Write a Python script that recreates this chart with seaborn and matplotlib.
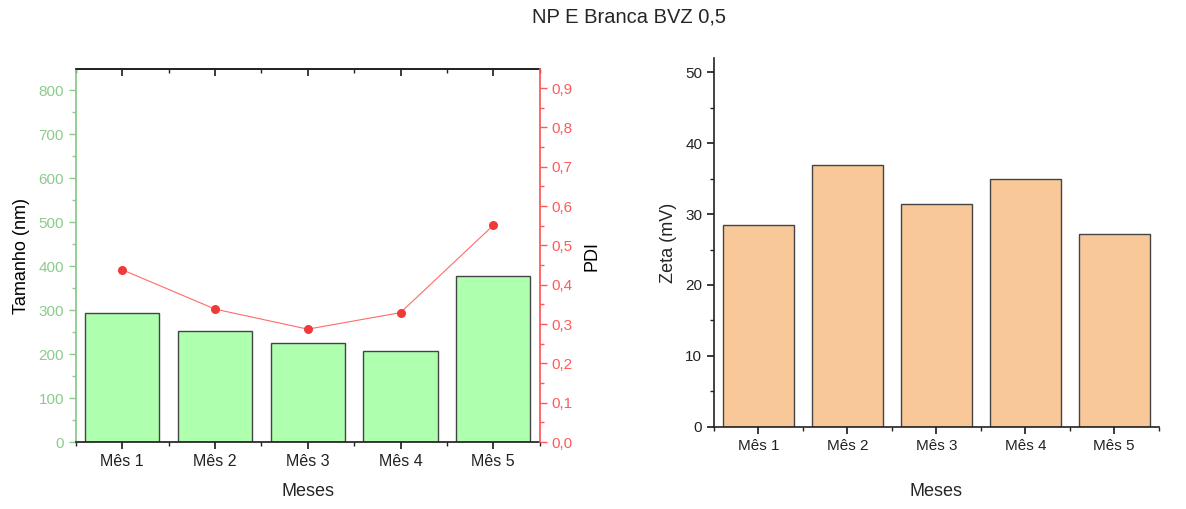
import matplotlib
matplotlib.use("Agg")
import matplotlib.pyplot as plt
from matplotlib.ticker import MultipleLocator, FuncFormatter, NullFormatter
import seaborn as sns
import pandas as pd

meses = ["Mês 1", "Mês 2", "Mês 3", "Mês 4", "Mês 5"]
tamanho_nm = [293, 253, 226, 206, 378]
pdi = [0.438, 0.338, 0.287, 0.329, 0.551]
zeta_mv = [28.5, 36.9, 31.4, 35.0, 27.2]

sns.set_theme(style="ticks")
plt.rcParams["font.family"] = ["Liberation Sans", "DejaVu Sans"]

GREEN_BAR = "#AEFFAE"
GREEN_AX = "#8CCB8C"
RED = "#F03A3A"
RED_AX = "#FF5A5A"
ORANGE_BAR = "#F8C899"
EDGE = "#444444"

df = pd.DataFrame({"Meses": meses, "Tamanho": tamanho_nm, "PDI": pdi, "Zeta": zeta_mv})

fig = plt.figure(figsize=(11.86, 5.09), dpi=100)
ax1 = fig.add_axes([0.064, 0.1316, 0.391, 0.7324])
ax3 = fig.add_axes([0.602, 0.1617, 0.375, 0.7238])

comma = FuncFormatter(lambda v, p: f"{v:.1f}".replace(".", ","))
major_x = list(range(len(meses)))
minor_x = [i + 0.5 for i in range(-1, len(meses))]

# --- Tamanho (bars) with PDI on twin axis ---
sns.barplot(data=df, x="Meses", y="Tamanho", ax=ax1, color=GREEN_BAR,
            saturation=1, width=0.8, edgecolor=EDGE, linewidth=1.0)
ax1.set_ylim(0, 848)
ax1.set_xlim(-0.5, 4.5)
ax1.yaxis.set_major_locator(MultipleLocator(100))
ax1.yaxis.set_minor_locator(MultipleLocator(50))
ax1.set_xticks(major_x)
ax1.set_xticks(minor_x, minor=True)
ax1.set_ylabel("Tamanho (nm)", fontsize=13, color="black", labelpad=6)
ax1.set_xlabel("Meses", fontsize=13, labelpad=10)
ax1.tick_params(axis="y", colors=GREEN_AX, labelsize=11, direction="out", length=5, width=1)
ax1.tick_params(axis="y", which="minor", colors=GREEN_AX, length=3)
ax1.tick_params(axis="x", labelsize=11.5, labelcolor="#222222", direction="out", length=5,
                which="major", color="#222222")
ax1.tick_params(axis="x", which="minor", length=3, color="#222222")
ax1.spines["left"].set_color(GREEN_AX)
ax1.spines["left"].set_linewidth(1.3)
ax1.spines["top"].set_color("#222222")
ax1.spines["bottom"].set_color("#222222")
ax1.spines["right"].set_visible(False)

# top axis: inward ticks, no labels
top = ax1.secondary_xaxis("top")
top.set_xticks(major_x)
top.set_xticks(minor_x, minor=True)
top.xaxis.set_major_formatter(NullFormatter())
top.tick_params(axis="x", which="major", direction="in", length=5, color="#222222")
top.tick_params(axis="x", which="minor", direction="in", length=3, color="#222222")
top.spines["top"].set_color("#222222")

ax2 = ax1.twinx()
sns.pointplot(data=df, x="Meses", y="PDI", ax=ax2, color=RED, markers="o",
              markersize=6.5, linewidth=0.8, linestyles="-")
for ln in ax2.lines:
    ln.set_markeredgewidth(0)
ax2.get_lines()[0].set_color("#FF6B6B")
ax2.get_lines()[0].set_markerfacecolor(RED)
ax2.set_ylim(0, 0.948)
ax2.set_xlim(-0.5, 4.5)
ax2.yaxis.set_major_locator(MultipleLocator(0.1))
ax2.yaxis.set_minor_locator(MultipleLocator(0.05))
ax2.yaxis.set_major_formatter(comma)
ax2.set_ylabel("PDI", fontsize=13, color="black", labelpad=8)
ax2.set_xlabel("")
ax2.tick_params(axis="y", colors=RED_AX, labelsize=11, direction="out", length=5, width=1)
ax2.tick_params(axis="y", which="minor", colors=RED_AX, length=3)
ax2.spines["right"].set_color(RED_AX)
ax2.spines["right"].set_linewidth(1.3)
ax2.spines["left"].set_visible(False)
ax2.spines["top"].set_visible(False)
ax2.spines["bottom"].set_visible(False)

# --- Zeta potential ---
sns.barplot(data=df, x="Meses", y="Zeta", ax=ax3, color=ORANGE_BAR,
            saturation=1, width=0.8, edgecolor=EDGE, linewidth=1.0)
ax3.set_ylim(0, 52)
ax3.set_xlim(-0.5, 4.5)
ax3.yaxis.set_major_locator(MultipleLocator(10))
ax3.yaxis.set_minor_locator(MultipleLocator(5))
ax3.set_xticks(major_x)
ax3.set_xticks(minor_x, minor=True)
ax3.set_ylabel("Zeta (mV)", fontsize=13, labelpad=6)
ax3.set_xlabel("Meses", fontsize=13, labelpad=22)
ax3.tick_params(axis="both", labelsize=11, labelcolor="#222222", direction="out",
                length=5, which="major", color="#222222")
ax3.tick_params(axis="both", which="minor", length=3, color="#222222")
for s in ["left", "bottom"]:
    ax3.spines[s].set_color("#222222")
    ax3.spines[s].set_linewidth(1.2)
sns.despine(ax=ax3)

fig.suptitle("NP E Branca BVZ 0,5", fontsize=14.5, x=0.53, y=0.985)

fig.savefig("out.png", dpi=100)
